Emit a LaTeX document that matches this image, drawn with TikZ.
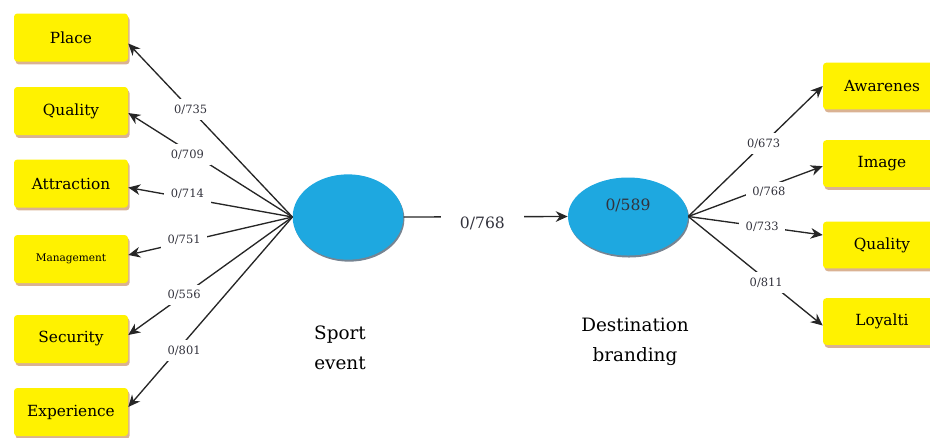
\documentclass[tikz,border=0pt]{standalone}
\usepackage{fontspec}
\setmainfont{DejaVu Serif}
\usetikzlibrary{arrows.meta,shadows,shapes.geometric}
\definecolor{boxyellow}{RGB}{255,242,0}
\definecolor{boxshadow}{RGB}{214,170,135}
\definecolor{lvblue}{RGB}{30,168,224}
\definecolor{lvshadow}{RGB}{60,80,100}
\definecolor{lbltext}{RGB}{50,50,60}
\begin{document}
\begin{tikzpicture}[x=0.75pt,y=-0.75pt,
  box/.style={draw=none, fill=boxyellow, rounded corners=2.5pt,
    minimum width=85.5pt, minimum height=36pt, inner sep=0pt,
    font=\fontsize{11.5}{14}\selectfont,
    drop shadow={shadow xshift=1.2pt, shadow yshift=-2.2pt, fill=boxshadow, opacity=0.9}},
  rbox/.style={box, minimum width=88.5pt, minimum height=35pt},
  lv/.style={ellipse, draw=none, fill=lvblue, inner sep=0pt,
    drop shadow={shadow xshift=0.8pt, shadow yshift=-1.5pt, fill=lvshadow, opacity=0.7}},
  arr/.style={draw=black!85, line width=1pt, -{Stealth[length=9pt,width=8pt]}},
  lbl/.style={fill=white, inner xsep=5pt, inner ysep=4pt, text=lbltext,
    font=\fontsize{8.6}{10}\selectfont},
  big/.style={font=\fontsize{13.8}{22.5}\selectfont, align=center}
]
\useasboundingbox (0,0) rectangle (930,437);
\clip (0,0) rectangle (930,437);

% left indicator boxes
\node[box] (place) at (71,37.5) {Place};
\node[box] (quality) at (71,111) {Quality};
\node[box] (attr) at (71,183.5) {Attraction};
\node[box, font=\fontsize{7.9}{9}\selectfont] (manag) at (71,259) {Management};
\node[box] (secur) at (71,339) {Security};
\node[box] (exper) at (71,412) {Experience};

% right indicator boxes
\node[rbox] (aware) at (882,86) {Awarenes};
\node[rbox] (image) at (882,163.5) {Image};
\node[rbox] (rqual) at (882,245) {Quality};
\node[rbox] (loyal) at (882,321.5) {Loyalti};

% latent variables
\node[lv, minimum width=83pt, minimum height=64pt] (sport) at (348,217) {};
\node[lv, minimum width=90pt, minimum height=58.5pt] (dest) at (628,216.5) {};
\node[font=\fontsize{11.7}{14}\selectfont, text=lbltext] (destval) at (628,205) {0/589};

\node[big] (sportlbl) at (340,348) {Sport\\event};
\node[big] (destlbl) at (635,342) {Destination\\branding};

% left connectors
\draw[arr] (sport.west) -- node[lbl, pos=0.62] (l1) {0/735} ([yshift=-4.5pt]place.east);
\draw[arr] (sport.west) -- node[lbl, pos=0.64, yshift=-3pt] (l2) {0/709} ([yshift=-1.5pt]quality.east);
\draw[arr] (sport.west) -- node[lbl, pos=0.64, yshift=3pt] (l3) {0/714} ([yshift=-3pt]attr.east);
\draw[arr] (sport.west) -- node[lbl, pos=0.66, yshift=2pt] (l4) {0/751} ([yshift=3pt]manag.east);
\draw[arr] (sport.west) -- node[lbl, pos=0.66] (l5) {0/556} ([yshift=3pt]secur.east);
\draw[arr] (sport.west) -- node[lbl, pos=0.66, yshift=-6pt] (l6) {0/801} ([yshift=3.75pt]exper.east);

% structural path
\draw[arr] (sport.east) -- node[lbl, pos=0.48, yshift=-5pt, inner xsep=14pt, font=\fontsize{11.7}{14}\selectfont] (lmid) {0/768} (dest.west);

% right connectors
\draw[arr] (dest.east) -- node[lbl, pos=0.56] (r1) {0/673} (aware.west);
\draw[arr] (dest.east) -- node[lbl, pos=0.6, yshift=-4pt] (r2) {0/768} ([yshift=-2pt]image.west);
\draw[arr] (dest.east) -- node[lbl, pos=0.55] (r3) {0/733} ([yshift=7.5pt]rqual.west);
\draw[arr] (dest.east) -- node[lbl, pos=0.58, yshift=-2pt] (r4) {0/811} ([yshift=-3pt]loyal.west);
\end{tikzpicture}
\end{document}
